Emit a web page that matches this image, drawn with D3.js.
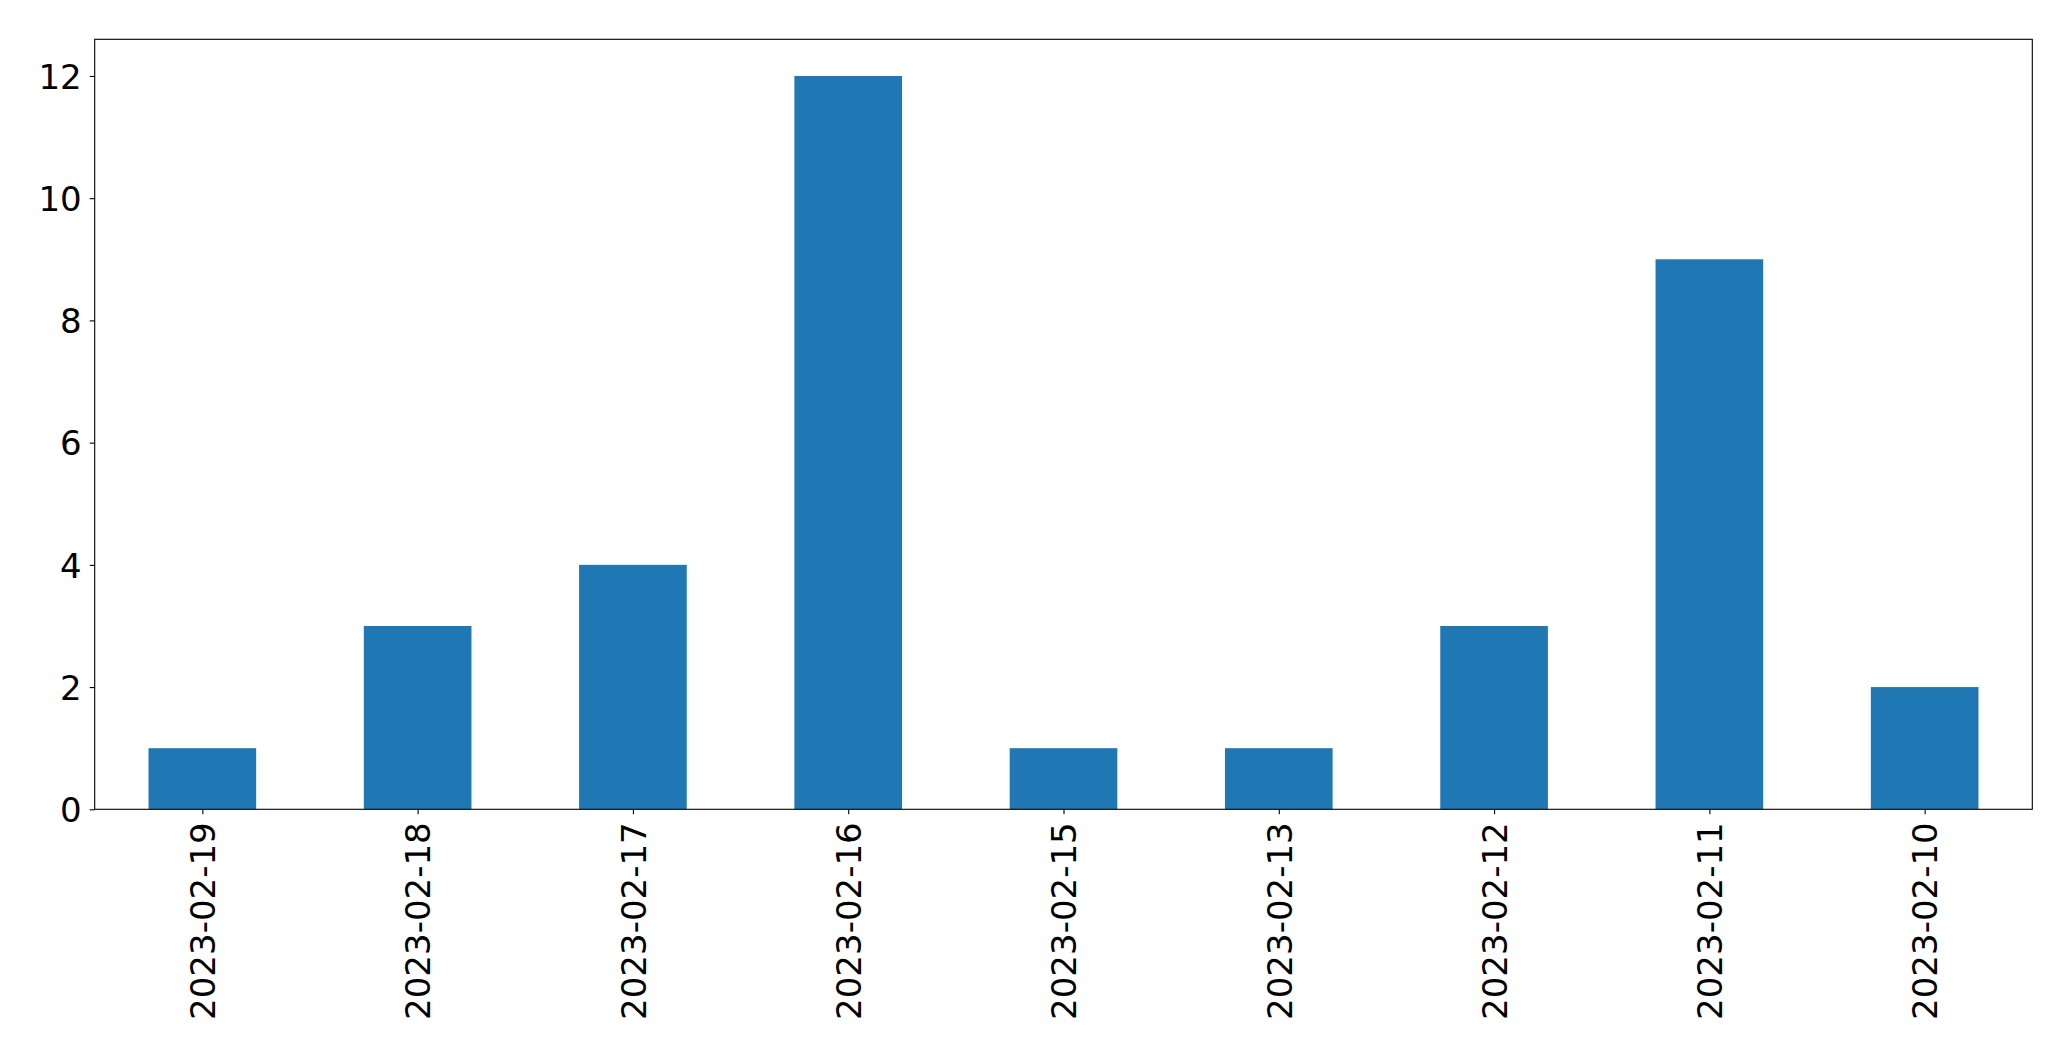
<!DOCTYPE html>
<html>
<head>
<meta charset="utf-8">
<script src="https://cdn.jsdelivr.net/npm/d3@7"></script>
<style>
  html, body { margin: 0; padding: 0; background: #fff; }
  svg { display: block; }
  .tick text { font-family: "DejaVu Sans", sans-serif; font-size: 34px; fill: #000; }
</style>
</head>
<body>
<script>
const categories = ["2023-02-19","2023-02-18","2023-02-17","2023-02-16","2023-02-15","2023-02-13","2023-02-12","2023-02-11","2023-02-10"];
const values = [1, 3, 4, 12, 1, 1, 3, 9, 2];
const yTicks = [0, 2, 4, 6, 8, 10, 12];

const W = 2071, H = 1061;
const mLeft = 94.7, mRight = 2032.3, mTop = 39.3, mBottom = 809.3;

const svg = d3.select("body").append("svg").attr("width", W).attr("height", H);

const x = d3.scaleLinear().domain([-0.5, categories.length - 0.5]).range([mLeft, mRight]);
const y = d3.scaleLinear().domain([0, 12.6]).range([mBottom, mTop]);

svg.append("g").selectAll("rect").data(values).join("rect")
  .attr("x", (d, i) => x(i - 0.25))
  .attr("width", (d, i) => x(i + 0.25) - x(i - 0.25))
  .attr("y", d => y(d))
  .attr("height", d => y(0) - y(d))
  .attr("fill", "#1f77b4");

const yAxis = d3.axisLeft(y).tickValues(yTicks).tickFormat(d3.format("d")).tickSize(5).tickPadding(8);
const gy = svg.append("g").attr("transform", `translate(${mLeft},0)`).call(yAxis);
gy.select(".domain").remove();
gy.selectAll(".tick line").attr("stroke", "#000").attr("stroke-width", 1.1);
gy.selectAll(".tick text").attr("dy", "0.36em");

const xAxis = d3.axisBottom(x).tickValues(d3.range(categories.length)).tickFormat(i => categories[i]).tickSize(5).tickPadding(8);
const gx = svg.append("g").attr("transform", `translate(0,${mBottom})`).call(xAxis);
gx.select(".domain").remove();
gx.selectAll(".tick line").attr("stroke", "#000").attr("stroke-width", 1.1);
gx.selectAll(".tick text")
  .attr("transform", "rotate(-90)")
  .attr("x", -13)
  .attr("y", 0)
  .attr("dy", "0.36em")
  .attr("text-anchor", "end");

svg.append("rect")
  .attr("x", mLeft).attr("y", mTop)
  .attr("width", mRight - mLeft).attr("height", mBottom - mTop)
  .attr("fill", "none").attr("stroke", "#000").attr("stroke-width", 1.1);
</script>
</body>
</html>
